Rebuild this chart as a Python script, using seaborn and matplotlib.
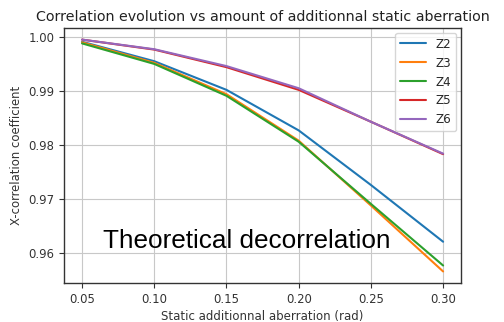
import matplotlib
matplotlib.use("Agg")
import matplotlib.pyplot as plt
import seaborn as sns
import pandas as pd

# Static additional aberration amplitudes (rad)
aberration = [0.05, 0.10, 0.15, 0.20, 0.25, 0.30]

# X-correlation coefficient for each Zernike mode
z2 = [0.9991, 0.9955, 0.9902, 0.9827, 0.9726, 0.9621]
z3 = [0.9990, 0.9952, 0.9894, 0.9808, 0.9688, 0.9566]
z4 = [0.9988, 0.9950, 0.9891, 0.9806, 0.9691, 0.9577]
z5 = [0.9995, 0.99765, 0.9944, 0.9902, 0.9843, 0.9783]
z6 = [0.9995, 0.99772, 0.9946, 0.9905, 0.9843, 0.9784]

modes = ["Z2", "Z3", "Z4", "Z5", "Z6"]
series = [z2, z3, z4, z5, z6]

frames = []
for name, vals in zip(modes, series):
    frames.append(pd.DataFrame({"x": aberration, "corr": vals, "mode": name}))
df = pd.concat(frames, ignore_index=True)

sns.set_style("ticks", {"axes.grid": True, "grid.color": "#c8c8c8",
                        "axes.edgecolor": "#333333"})
plt.rcParams["font.family"] = ["DejaVu Sans"]

fig = plt.figure(figsize=(5.04, 3.22), dpi=100)
ax = fig.add_axes([0.127, 0.121, 0.788, 0.792])

sns.lineplot(data=df, x="x", y="corr", hue="mode", palette="tab10",
             linewidth=1.5, ax=ax)

for side in ["top", "right", "left", "bottom"]:
    ax.spines[side].set_visible(True)
    ax.spines[side].set_linewidth(1.0)

ax.set_xticks([0.05, 0.10, 0.15, 0.20, 0.25, 0.30])
ax.set_xticklabels(["0.05", "0.10", "0.15", "0.20", "0.25", "0.30"])
ax.set_yticks([0.96, 0.97, 0.98, 0.99, 1.00])
ax.set_yticklabels(["0.96", "0.97", "0.98", "0.99", "1.00"])
ax.tick_params(labelsize=8.4, colors="#333333", length=3.5, width=0.8)

ax.set_xlabel("Static additionnal aberration (rad)", fontsize=8.5,
              color="#333333", labelpad=3)
ax.set_ylabel("X-correlation coefficient", fontsize=8.4, color="#333333")
ax.set_title("Correlation evolution vs amount of additionnal static aberration",
             fontsize=10.3, color="#222222", pad=5)

leg = ax.legend(loc="upper right", fontsize=8.6, title=None, frameon=True,
                handlelength=2.2, borderaxespad=0.4)
leg.get_frame().set_edgecolor("#cccccc")

ax.text(0.098, 0.137, "Theoretical decorrelation", transform=ax.transAxes,
        fontsize=18.8, family=["Liberation Sans", "DejaVu Sans"],
        color="black", va="baseline", ha="left")

fig.savefig("out.png", dpi=100)
